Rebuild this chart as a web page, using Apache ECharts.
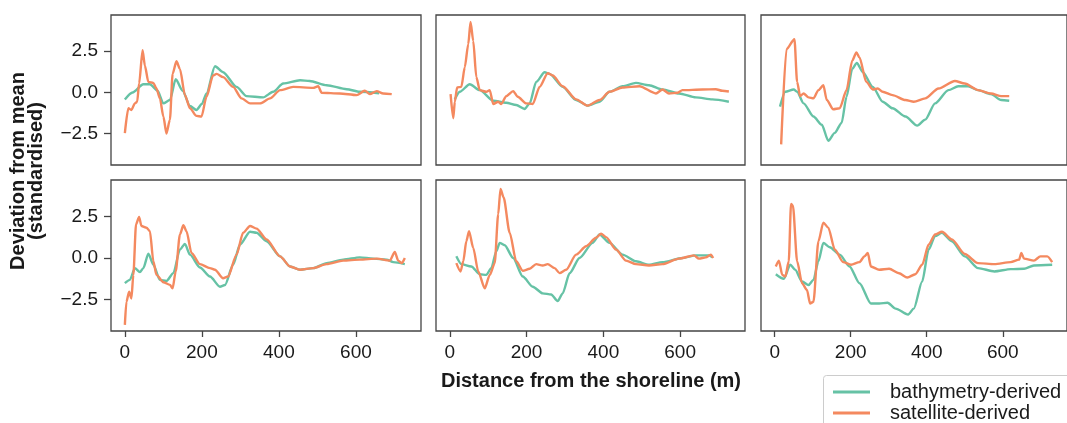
<!DOCTYPE html>
<html>
<head>
<meta charset="utf-8">
<script src="https://cdn.jsdelivr.net/npm/echarts@6/dist/echarts.min.js"></script>
<style>
    html, body { margin: 0; padding: 0; background: #fff; }
    #chartArea { width: 1067px; height: 423px; }
</style>
</head>
<body>
<div id="chartArea"></div>
<script>
// distance from shoreline (m), deviation from mean (standardised)
const p1Bathy = [[0,-0.42],[20,0],[48,0.5],[65,0.5],[85,0.1],[100,-0.66],[117,-0.46],[132,0.8],[150,0.1],[169,-0.82],[186,-1.06],[200,-0.7],[212,-0.06],[234,1.59],[255,1.23],[290,0.34],[316,-0.22],[359,-0.3],[385,0.04],[411,0.54],[455,0.74],[480,0.7],[524,0.44],[576,0.2],[610,0.04],[660,-0.05]];
const p1Sat = [[0,-2.46],[9,-0.96],[17,-1.06],[26,-0.66],[32,-0.56],[37,0.54],[46,2.57],[52,1.63],[61,0.64],[74,0.58],[82,0.24],[91,-0.36],[100,-1.46],[108,-2.49],[117,-1.65],[124,1.13],[134,1.89],[143,1.43],[156,-0.16],[169,-0.96],[186,-1.42],[199,-1.46],[212,-0.26],[229,1.03],[238,1.13],[255,0.93],[281,0.34],[303,-0.36],[325,-0.66],[351,-0.66],[377,-0.36],[403,0.14],[437,0.34],[489,0.28],[502,0.38],[511,-0.02],[558,-0.06],[602,-0.16],[623,0.1],[636,-0.1],[654,0.08],[671,-0.06],[693,-0.1]];

const p2Bathy = [[13,-0.42],[26,0.04],[52,0.5],[78,0.14],[113,-0.5],[147,-0.62],[173,-0.76],[195,-1.0],[208,-0.66],[225,0.64],[247,1.23],[260,1.13],[294,0.34],[329,-0.46],[359,-0.8],[390,-0.56],[416,0.04],[450,0.38],[485,0.58],[519,0.44],[554,0.18],[597,-0.06],[641,-0.3],[684,-0.42],[727,-0.56]];
const p2Sat = [[2,-0.1],[9,-1.56],[13,-0.56],[19,0.3],[30,0.34],[39,1.53],[48,2.93],[54,4.28],[61,3.13],[69,0.94],[78,0.14],[95,0.04],[104,0.14],[113,-0.7],[126,-0.56],[134,-0.7],[147,-0.22],[165,0.08],[177,-0.26],[199,-0.66],[216,-0.7],[234,0.34],[255,1.17],[268,1.03],[294,0.38],[329,-0.42],[359,-0.8],[390,-0.46],[416,0.04],[450,0.3],[494,0.38],[537,-0.06],[554,0.18],[571,-0.06],[593,-0.02],[606,0.14],[658,0.18],[693,0.2],[710,0.1],[727,0.06]];

const p3Bathy = [[14,-0.86],[28,0.04],[50,0.18],[59,0.04],[76,-0.66],[102,-1.46],[124,-1.96],[141,-2.93],[158,-2.45],[176,-1.85],[189,-0.26],[204,1.43],[216,1.79],[232,1.23],[258,0.34],[284,-0.56],[310,-0.96],[344,-1.46],[375,-2.01],[396,-1.65],[422,-0.66],[457,0.14],[483,0.38],[509,0.38],[535,0.14],[569,-0.1],[596,-0.46],[617,-0.5]];
const p3Sat = [[17,-3.15],[31,2.63],[52,3.23],[59,0.64],[67,-0.22],[76,-0.06],[89,-0.3],[102,-0.36],[115,0.14],[128,0.44],[137,-0.46],[154,-1.02],[171,-0.96],[189,0.14],[204,1.93],[215,2.43],[223,2.13],[241,0.64],[258,0.18],[271,0.24],[284,0.04],[310,-0.16],[344,-0.46],[366,-0.56],[396,-0.36],[431,0.24],[474,0.7],[500,0.54],[535,0.14],[569,-0.06],[596,-0.22],[617,-0.22]];

const p4Bathy = [[0,-1.52],[13,-1.32],[26,-0.61],[39,-0.85],[48,-0.61],[61,0.26],[74,-0.41],[91,-1.32],[108,-1.38],[126,-0.91],[143,0.51],[156,0.85],[169,0.2],[195,-0.57],[221,-1.12],[247,-1.73],[260,-1.63],[281,-0.41],[299,0.81],[325,1.58],[342,1.52],[368,1.01],[403,0.1],[429,-0.51],[455,-0.71],[489,-0.61],[524,-0.31],[567,-0.1],[610,0.04],[645,-0.04],[680,-0.1],[697,-0.25],[727,-0.37]];
const p4Sat = [[0,-4.03],[4,-2.64],[11,-2.03],[17,-2.44],[22,-1.02],[29,2.03],[37,2.48],[43,1.93],[56,1.83],[65,1.62],[74,-0.2],[82,-1.02],[100,-1.46],[117,-1.62],[124,-1.83],[132,-0.81],[143,1.42],[152,1.97],[160,1.62],[173,0.3],[195,-0.37],[221,-0.61],[234,-0.71],[255,-1.22],[268,-1.12],[290,0.2],[307,1.52],[325,1.93],[342,1.77],[368,1.12],[403,0.1],[429,-0.51],[455,-0.71],[489,-0.61],[524,-0.37],[567,-0.16],[610,-0.1],[654,-0.04],[688,-0.16],[701,0.36],[710,-0.16],[719,-0.31],[727,0.0]];

const p5Bathy = [[17,0.1],[30,-0.37],[56,-0.51],[78,-0.98],[95,-1.02],[108,-0.61],[121,0.4],[130,0.91],[143,0.77],[165,0.0],[190,-1.12],[216,-1.73],[242,-2.13],[264,-2.2],[281,-2.6],[294,-2.13],[312,-0.92],[338,0.0],[372,0.91],[390,1.42],[416,0.91],[450,0.2],[485,-0.2],[519,-0.41],[554,-0.25],[606,0.0],[641,0.16],[675,0.16],[684,0.04]];
const p5Sat = [[17,-0.31],[28,-0.81],[35,-0.2],[43,1.01],[50,1.62],[61,0.61],[74,-0.81],[91,-1.83],[104,-1.02],[117,-0.31],[126,2.64],[132,4.16],[140,3.66],[156,1.52],[173,-0.2],[190,-0.77],[208,-0.65],[225,-0.37],[242,-0.45],[255,-0.37],[273,-0.61],[286,-0.91],[303,-0.71],[329,0.2],[355,0.71],[381,1.22],[394,1.46],[407,1.26],[433,0.51],[459,-0.16],[485,-0.37],[519,-0.45],[554,-0.37],[597,-0.04],[636,0.16],[649,-0.04],[667,0.04],[680,0.2],[686,0.0]];

const p6Bathy = [[3,-0.98],[24,-1.26],[41,-0.41],[54,-0.71],[72,-1.42],[89,-1.63],[102,-1.32],[115,-0.2],[128,0.91],[145,0.65],[171,0.2],[197,-0.51],[223,-1.52],[253,-2.74],[275,-2.74],[297,-2.7],[318,-3.05],[351,-3.41],[366,-3.05],[388,-1.42],[405,0.51],[422,1.32],[440,1.52],[466,1.01],[500,0.1],[535,-0.61],[578,-0.81],[621,-0.67],[656,-0.65],[682,-0.45],[730,-0.41]];
const p6Sat = [[3,-0.51],[11,-0.16],[20,-1.02],[28,-1.12],[37,-0.2],[43,3.25],[48,3.15],[59,-0.2],[72,-1.52],[85,-1.93],[93,-2.74],[102,-2.64],[115,1.01],[128,2.13],[141,1.83],[158,0.51],[180,-0.25],[201,-0.41],[223,-0.25],[236,0.1],[245,0.3],[253,-0.51],[275,-0.71],[301,-0.65],[327,-0.92],[349,-1.18],[370,-0.98],[388,-0.41],[405,0.81],[422,1.42],[440,1.58],[466,1.12],[500,0.24],[535,-0.31],[578,-0.37],[621,-0.25],[643,-0.1],[649,0.3],[656,-0.04],[682,-0.16],[699,0.1],[717,0.1],[730,-0.25]];

const xTicks = [0, 200, 400, 600];
const yTicks = [-2.5, 0, 2.5];
const seriesNames = ['bathymetry-derived', 'satellite-derived'];

const panels = [
    [p1Bathy, p1Sat], [p2Bathy, p2Sat], [p3Bathy, p3Sat],
    [p4Bathy, p4Sat], [p5Bathy, p5Sat], [p6Bathy, p6Sat]
];

const font = 'Arial, "Liberation Sans", sans-serif';
const colBathy = '#66c2a5';
const colSat = '#f4895f';
const lefts = [111, 436, 761];

let chartDom = document.getElementById('chartArea');
let myChart = echarts.init(chartDom, null, { renderer: 'canvas' });

let grids = [], xAxes = [], yAxes = [], series = [];
panels.forEach((p, i) => {
    let row = Math.floor(i / 3), col = i % 3;
    grids.push({
        left: lefts[col], top: row === 0 ? 15 : 180,
        width: col === 1 ? 309 : 310, height: row === 0 ? 150 : 151,
        show: true, borderColor: '#444', borderWidth: 1.3, backgroundColor: 'transparent'
    });
    xAxes.push({
        type: 'value', gridIndex: i, min: -36, max: 769, position: 'bottom',
        splitLine: { show: false }, axisLine: { show: false, onZero: false },
        axisTick: { show: row === 1, customValues: xTicks, length: 6, lineStyle: { color: '#444', width: 1.3 } },
        axisLabel: { show: row === 1, customValues: xTicks, margin: 12, fontSize: 19, color: '#1a1a1a', fontFamily: font }
    });
    yAxes.push({
        type: 'value', gridIndex: i, min: -4.4, max: 4.7, position: 'left',
        splitLine: { show: false }, axisLine: { show: false, onZero: false },
        axisTick: { show: col === 0, customValues: yTicks, length: 7, lineStyle: { color: '#444', width: 1.3 } },
        axisLabel: {
            show: col === 0, customValues: yTicks, margin: 13, fontSize: 19, color: '#1a1a1a', fontFamily: font,
            formatter: v => (v < 0 ? '\u2212' : '') + Math.abs(v).toFixed(1)
        }
    });
    [colBathy, colSat].forEach((c, k) => {
        series.push({
            name: seriesNames[k], type: 'line', xAxisIndex: i, yAxisIndex: i,
            data: p[k], showSymbol: false, symbol: 'none', smooth: 0.25, smoothMonotone: 'x',
            lineStyle: { color: c, width: 2.4 }, itemStyle: { color: c },
            z: k === 0 ? 2 : 3, animation: false
        });
    });
});

// one legend per entry, stacked inside a framed box
let legends = seriesNames.map((name, k) => ({
    data: [name], left: 833, top: 382 + k * 21,
    padding: 0, itemWidth: 37, itemHeight: 3, icon: 'rect',
    textStyle: { fontSize: 20, color: '#1a1a1a', fontFamily: font, padding: [0, 0, 0, 15] }
}));

let option = {
    animation: false,
    textStyle: { fontFamily: font },
    grid: grids,
    xAxis: xAxes,
    yAxis: yAxes,
    series: series,
    legend: legends,
    graphic: [
        {
            type: 'rect', shape: { x: 823.5, y: 375.5, width: 260, height: 60, r: 3 },
            style: { fill: '#fff', stroke: '#cccccc', lineWidth: 1 }, z: -1
        },
        {
            type: 'text', x: 27, y: 171, rotation: Math.PI / 2,
            style: {
                text: 'Deviation from mean\n(standardised)', fontSize: 20, fontWeight: 'bold',
                fontFamily: font, fill: '#1a1a1a', align: 'center', verticalAlign: 'middle', lineHeight: 18
            }
        },
        {
            type: 'text', x: 591, y: 381,
            style: {
                text: 'Distance from the shoreline (m)', fontSize: 20, fontWeight: 'bold',
                fontFamily: font, fill: '#1a1a1a', align: 'center', verticalAlign: 'middle'
            }
        }
    ]
};
option && myChart.setOption(option);
</script>
</body>
</html>
